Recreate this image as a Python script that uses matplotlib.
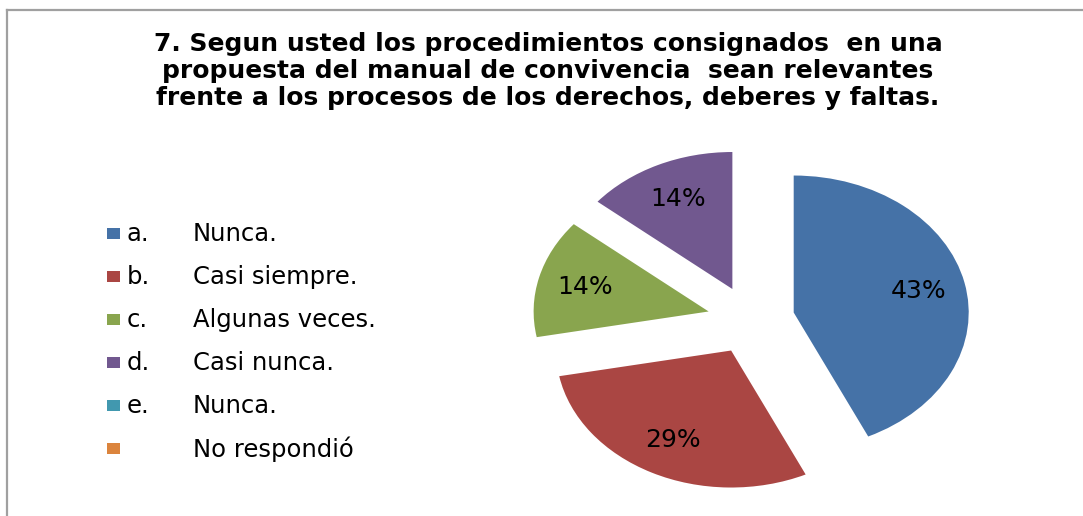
import matplotlib
matplotlib.use("Agg")
import matplotlib.pyplot as plt
from matplotlib.patches import Rectangle
from matplotlib.lines import Line2D

# data
prefixes = ["a.", "b.", "c.", "d.", "e.", ""]
names = ["Nunca.", "Casi siempre.", "Algunas veces.", "Casi nunca.", "Nunca.", "No respondió"]
percent = [43, 29, 14, 14, 0, 0]
colors = ["#4572A7", "#AA4643", "#89A54E", "#71588F", "#4198AF", "#DB843D"]

title = ("7. Segun usted los procedimientos consignados  en una\n"
         "propuesta del manual de convivencia  sean relevantes\n"
         "frente a los procesos de los derechos, deberes y faltas.")

W, H = 1083, 516
fig = plt.figure(figsize=(W / 100, H / 100), dpi=100)
fig.patch.set_facecolor("white")

# pie (slightly wider than tall, as in the original)
ax = fig.add_axes([488.5 / W, -9.5 / H, 525 / W, 411 / H])
wedges, texts, autotexts = ax.pie(
    percent,
    colors=colors,
    startangle=90,
    counterclock=False,
    explode=[0.25] * len(percent),
    autopct=lambda p: f"{p:.0f}%" if p > 0.5 else "",
    pctdistance=0.73,
    wedgeprops=dict(linewidth=0),
    textprops=dict(fontsize=18, color="black"),
)
ax.set_aspect("auto")
ax.set_xlim(-1.5, 1.5)
ax.set_ylim(-1.5, 1.5)
ax.axis("off")

# overlay in pixel coordinates for frame, title and legend
ov = fig.add_axes([0, 0, 1, 1], zorder=-1)
ov.set_xlim(0, W)
ov.set_ylim(H, 0)
ov.axis("off")

ov.add_line(Line2D([7, W], [10, 10], color="#a0a0a0", lw=1.6))
ov.add_line(Line2D([7, 7], [10, H], color="#a0a0a0", lw=1.6))

ov.text(548, 71, title, ha="center", va="center", fontsize=18,
        fontweight="bold", linespacing=1.15)

row_y = 234
for pre, name, col in zip(prefixes, names, colors):
    ov.add_patch(Rectangle((107, row_y - 6), 13, 11, facecolor=col, edgecolor="none"))
    ov.text(127, row_y, pre, ha="left", va="center", fontsize=17.5)
    ov.text(193, row_y, name, ha="left", va="center", fontsize=17.5)
    row_y += 43

fig.savefig("out.png", dpi=100, facecolor="white")
